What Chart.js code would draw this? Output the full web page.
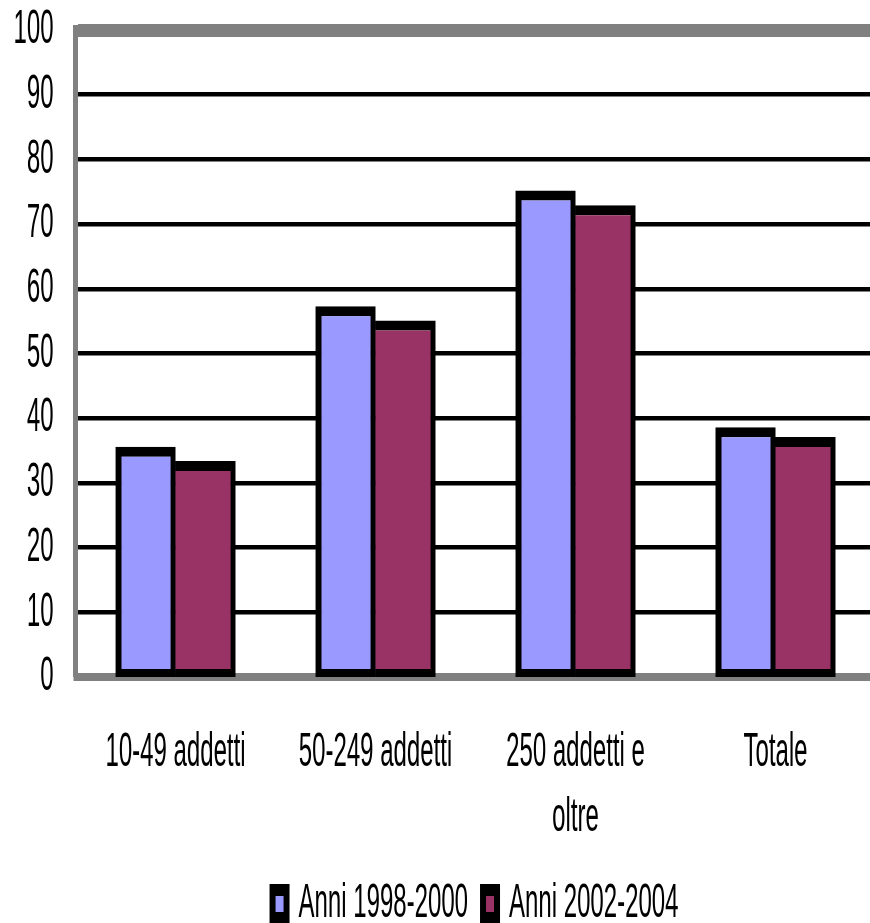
<!DOCTYPE html>
<html>
<head>
<meta charset="utf-8">
<style>
html,body{margin:0;padding:0;background:#fff;overflow:hidden;width:870px;height:923px;}
#wrap{position:absolute;left:0;top:0;width:880px;height:474px;transform:scale(1,2);transform-origin:0 0;}
canvas{display:block;}
</style>
<script src="https://cdn.jsdelivr.net/npm/chart.js@4/dist/chart.umd.min.js"></script>
</head>
<body>
<div id="wrap"><canvas id="c" width="880" height="474"></canvas></div>
<script>
const categories = ['10-49 addetti', '50-249 addetti', ['250 addetti e', 'oltre'], 'Totale'];
const seriesNames = ['Anni 1998-2000', 'Anni 2002-2004'];
const values1998_2000 = [35.6, 57.3, 75.2, 38.6];
const values2002_2004 = [33.4, 55.1, 72.9, 37.1];
const yTickMin = 0;
const yTickMax = 100;
const yTickStep = 10;

const FONT = '"Liberation Sans", Arial, sans-serif';
const GRAY = '#808080';
const CLEAR = 'rgba(0,0,0,0)';

new Chart(document.getElementById('c'), {
  type: 'bar',
  data: {
    labels: categories,
    datasets: [
      {
        label: seriesNames[0],
        data: values1998_2000,
        backgroundColor: '#9999FF',
        borderColor: '#000000',
        borderWidth: {top: 5, left: 6, right: 5, bottom: 4},
        borderSkipped: false,
        categoryPercentage: 0.6,
        barPercentage: 1.0
      },
      {
        label: seriesNames[1],
        data: values2002_2004,
        backgroundColor: '#993366',
        borderColor: '#000000',
        borderWidth: {top: 5, left: 0, right: 5, bottom: 4},
        borderSkipped: false,
        categoryPercentage: 0.6,
        barPercentage: 1.0
      }
    ]
  },
  options: {
    responsive: false,
    animation: false,
    devicePixelRatio: 2,
    layout: {padding: {top: 15, left: 13.5, right: 4.5, bottom: 0}},
    plugins: {
      tooltip: {enabled: false},
      legend: {
        position: 'bottom',
        fullSize: false,
        labels: {
          color: '#000',
          font: {family: FONT, size: 24},
          boxWidth: 14,
          boxHeight: 14,
          padding: 15,
          generateLabels: function (chart) {
            const items = Chart.defaults.plugins.legend.labels.generateLabels(chart);
            items.forEach(function (it) { it.lineWidth = 6; it.strokeStyle = '#000'; });
            return items;
          }
        }
      }
    },
    scales: {
      x: {
        type: 'category',
        grid: {display: true, drawOnChartArea: false, drawTicks: true, tickLength: 21.5, color: CLEAR, tickColor: CLEAR},
        border: {display: true, color: GRAY, width: 4},
        ticks: {
          color: '#000',
          font: {family: FONT, size: 24, lineHeight: 1.354},
          padding: 0,
          maxRotation: 0,
          minRotation: 0,
          autoSkip: false
        }
      },
      y: {
        min: yTickMin,
        max: yTickMax,
        grid: {
          drawTicks: true,
          tickLength: 22,
          tickColor: CLEAR,
          color: function (ctx) {
            if (!ctx.tick) return '#000';
            if (ctx.tick.value === yTickMax) return GRAY;
            if (ctx.tick.value === yTickMin) return CLEAR;
            return '#000';
          },
          lineWidth: function (ctx) {
            if (!ctx.tick) return 2;
            if (ctx.tick.value === yTickMax) return 6.5;
            if (ctx.tick.value === yTickMin) return 0;
            return 2.3;
          }
        },
        border: {display: true, color: GRAY, width: 5},
        ticks: {
          stepSize: yTickStep,
          autoSkip: false,
          color: '#000',
          font: {family: FONT, size: 24},
          padding: 0
        }
      }
    }
  }
});
</script>
</body>
</html>
